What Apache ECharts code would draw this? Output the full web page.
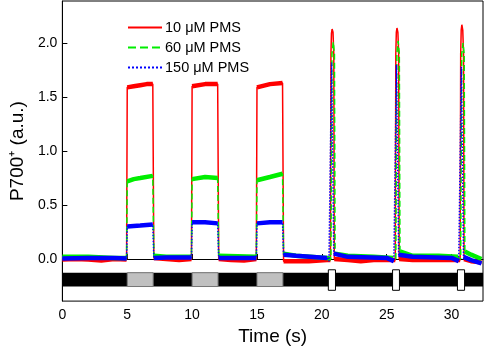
<!DOCTYPE html>
<html>
<head>
<meta charset="utf-8">
<script src="https://cdn.jsdelivr.net/npm/echarts@6/dist/echarts.min.js"></script>
<style>
    html, body { margin: 0; padding: 0; background: #fff; }
    #chart { width: 484px; height: 351px; }
</style>
</head>
<body>
<div id="chart"></div>
<script>
    // traces: [time (s), P700+ (a.u.)]
    const pms10 = [
        [0, -0.005], [1, 0.0], [2, -0.005], [3, -0.015], [4, 0.0], [4.95, -0.005],
        [5.0, 1.59], [5.5, 1.60], [6, 1.61], [6.5, 1.62], [6.97, 1.62],
        [7.05, 0.01], [8, 0.0], [9, -0.01], [9.95, 0.0],
        [10.0, 1.60], [11, 1.62], [11.97, 1.62],
        [12.05, 0.0], [13, -0.01], [14, -0.015], [14.95, 0.0],
        [15.0, 1.59], [16, 1.62], [16.97, 1.63],
        [17.05, -0.02], [18, -0.02], [19, -0.02], [20.4, -0.01], [20.66, -0.01],
        [20.7, 1.9], [20.74, 2.09], [20.79, 2.13], [20.86, 2.1], [20.92, 1.9], [20.96, 0.0],
        [22, -0.01], [23, -0.02], [24, -0.01], [25.66, -0.01],
        [25.7, 1.9], [25.74, 2.1], [25.79, 2.14], [25.86, 2.1], [25.92, 1.9], [25.96, 0.0],
        [27, -0.01], [28, -0.01], [29, -0.01], [30.66, -0.01],
        [30.7, 1.9], [30.74, 2.12], [30.79, 2.17], [30.86, 2.12], [30.92, 1.9], [30.96, 0.0],
        [31.5, -0.02], [32.3, -0.03]
    ]
    const pms60 = [
        [0, 0.02], [2, 0.02], [4, 0.01], [4.95, 0.01],
        [5.0, 0.72], [5.5, 0.74], [6, 0.75], [6.97, 0.77],
        [7.05, 0.03], [8, 0.02], [9.95, 0.02],
        [10.0, 0.74], [11, 0.76], [11.97, 0.75],
        [12.05, 0.03], [14.95, 0.02],
        [15.0, 0.73], [16, 0.76], [16.97, 0.79],
        [17.05, 0.05], [18, 0.03], [20.4, 0.01], [20.7, 0.0],
        [20.78, 1.9], [20.88, 2.01], [20.97, 1.9], [21.02, 0.05],
        [22, 0.03], [24, 0.02], [25.5, 0.01], [25.7, 0.0],
        [25.78, 1.9], [25.88, 2.02], [25.97, 1.9], [26.02, 0.07],
        [27, 0.03], [29, 0.03], [30.5, 0.02], [30.7, 0.0],
        [30.78, 1.9], [30.88, 2.0], [30.97, 1.9], [31.02, 0.07],
        [31.5, 0.04], [32.3, 0.0]
    ]
    const pms150 = [
        [0, 0.005], [2, 0.01], [4, 0.01], [4.95, 0.005],
        [5.0, 0.30], [6, 0.31], [6.97, 0.32],
        [7.05, 0.01], [8, 0.015], [9.95, 0.015],
        [10.0, 0.34], [11, 0.34], [11.97, 0.33],
        [12.05, 0.01], [14.95, 0.01],
        [15.0, 0.33], [16, 0.34], [16.97, 0.34],
        [17.05, 0.04], [18, 0.03], [20.4, 0.01], [20.55, -0.02],
        [20.75, 1.82], [20.85, 1.83], [20.92, 0.05],
        [22, 0.02], [25, 0.01], [25.55, -0.02],
        [25.75, 1.80], [25.85, 1.81], [25.92, 0.04],
        [27, 0.02], [30, 0.01], [30.55, -0.02],
        [30.75, 1.78], [30.85, 1.79], [30.92, 0.02],
        [31.5, -0.01], [32.3, -0.04]
    ]
    const seriesNames = ['10 μM PMS', '60 μM PMS', '150 μM PMS']
    const xTicks = [0, 5, 10, 15, 20, 25, 30]
    const yTicks = [0, 0.5, 1.0, 1.5, 2.0]
    // light regime bar under the traces
    const darkBar = [[0, 32.42]]
    const actinicLight = [[5, 7], [10, 12], [15, 17]]
    const flashes = [[20.5, 21.05], [25.45, 25.98], [30.45, 31.0]]

    const colors = ['#ff0000', '#00ee00', '#0000ff']
    const lineTypes = ['solid', 'dashed', 'dotted']
    const traces = [pms10, pms60, pms150]

    // thicker solid band on the flat (noisy) stretches, breaking at jumps and spikes
    function plateaus (arr) {
        const out = [arr[0]]
        for (let i = 1; i < arr.length; i++) {
            const jump = Math.abs(arr[i][1] - arr[i - 1][1]) > 0.2
            const short = arr[i][0] - arr[i - 1][0] < 0.2
            if (jump || short) out.push([null, null])
            out.push(arr[i])
        }
        return out
    }

    const font = 'Liberation Sans, Arial, sans-serif'
    const chart = echarts.init(document.getElementById('chart'))

    const series = []
    traces.forEach(function (d, i) {
        series.push({
            name: seriesNames[i],
            type: 'line',
            data: d,
            showSymbol: false,
            symbol: 'none',
            z: 5 + i,
            color: colors[i],
            lineStyle: { color: colors[i], width: 1.5, type: lineTypes[i] },
            animation: false
        })
        series.push({
            name: 'band' + i,
            type: 'line',
            data: plateaus(d),
            showSymbol: false,
            symbol: 'none',
            connectNulls: false,
            z: 5 + i,
            lineStyle: { color: colors[i], width: 4.5 },
            animation: false
        })
    })

    series.push({
        name: 'bar',
        type: 'line',
        data: [],
        z: 2,
        markLine: {
            silent: true,
            symbol: 'none',
            label: { show: false },
            lineStyle: { color: '#000', width: 1, type: 'solid' },
            data: [{ yAxis: 0 }]
        },
        markArea: {
            silent: true,
            itemStyle: { color: '#000' },
            data: darkBar.map(p => [{ xAxis: p[0], yAxis: -0.255 }, { xAxis: p[1], yAxis: -0.127 }])
        }
    })
    series.push({
        name: 'actinic',
        type: 'line',
        data: [],
        z: 3,
        markArea: {
            silent: true,
            itemStyle: { color: '#c0c0c0', borderColor: '#777', borderWidth: 1 },
            data: actinicLight.map(p => [{ xAxis: p[0], yAxis: -0.255 }, { xAxis: p[1], yAxis: -0.127 }])
        }
    })
    series.push({
        name: 'flash',
        type: 'line',
        data: [],
        z: 4,
        markArea: {
            silent: true,
            itemStyle: { color: '#fff', borderColor: '#000', borderWidth: 1 },
            data: flashes.map(p => [{ xAxis: p[0], yAxis: -0.29 }, { xAxis: p[1], yAxis: -0.1 }])
        }
    })

    chart.setOption({
        animation: false,
        textStyle: { fontFamily: font, color: '#000' },
        grid: {
            left: 55, right: 1, top: 1, bottom: 44,
            show: true, borderColor: '#000', borderWidth: 1
        },
        legend: {
            orient: 'vertical',
            left: 122,
            top: 15,
            itemWidth: 34,
            itemHeight: 12,
            itemGap: 5,
            data: seriesNames,
            itemStyle: { opacity: 0 },
            textStyle: { fontSize: 14.5, fontFamily: font, color: '#000', padding: [0, 0, 0, -2] }
        },
        xAxis: {
            type: 'value',
            min: 0,
            max: 32.42,
            name: 'Time (s)',
            nameLocation: 'middle',
            nameGap: 24,
            nameTextStyle: { fontSize: 19, fontFamily: font, color: '#000' },
            splitLine: { show: false },
            axisLine: { lineStyle: { color: '#000' } },
            axisTick: { inside: true, length: 5, customValues: xTicks, lineStyle: { color: '#000' } },
            axisLabel: { customValues: xTicks, fontSize: 14, color: '#000', margin: 7 }
        },
        yAxis: {
            type: 'value',
            min: -0.39,
            max: 2.39,
            name: 'P700⁺ (a.u.)',
            nameLocation: 'middle',
            nameGap: 33,
            nameTextStyle: { fontSize: 19, fontFamily: font, color: '#000' },
            splitLine: { show: false },
            axisLine: { lineStyle: { color: '#000' } },
            axisTick: { inside: true, length: 5, customValues: yTicks, lineStyle: { color: '#000' } },
            axisLabel: {
                customValues: yTicks,
                fontSize: 14,
                color: '#000',
                margin: 5,
                formatter: v => v.toFixed(1)
            }
        },
        series: series
    })
</script>
</body>
</html>
